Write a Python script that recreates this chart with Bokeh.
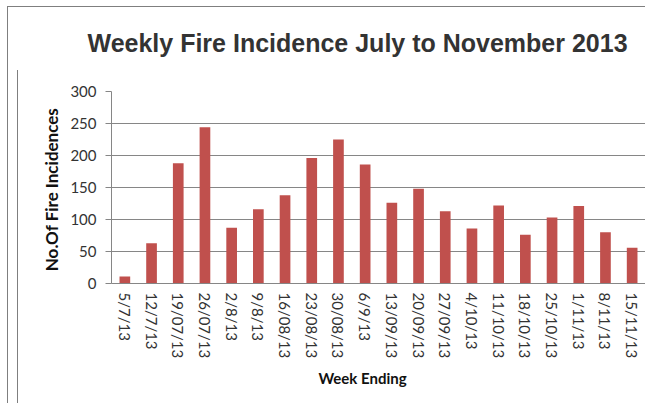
from bokeh.plotting import figure
from bokeh.models import Range1d, FactorRange, Title, FixedTicker
from bokeh.embed import file_html
from bokeh.resources import INLINE

weeks = ["5/7/13", "12/7/13", "19/07/13", "26/07/13", "2/8/13", "9/8/13",
         "16/08/13", "23/08/13", "30/08/13", "6/9/13", "13/09/13", "20/09/13",
         "27/09/13", "4/10/13", "11/10/13", "18/10/13", "25/10/13", "1/11/13",
         "8/11/13", "15/11/13"]
incidences = [11, 63, 188, 244, 87, 116, 138, 196, 225, 186, 126, 148,
              113, 86, 122, 76, 103, 121, 80, 56]
y_ticks = [0, 50, 100, 150, 200, 250, 300]

title_text = "Weekly Fire Incidence July to November 2013"
x_title = "Week Ending"
y_title = "No.Of  Fire Incidences"

W, H = 645, 403
GRID = "#868686"
BAR = "#C0504D"
TXT = "#333333"
LINE = "linear-gradient(#7f7f7f,#7f7f7f)"

p = figure(x_range=FactorRange(factors=weeks, range_padding=0),
           y_range=Range1d(0, 300), width=W, height=H,
           output_backend="svg", toolbar_location=None,
           min_border_left=111, min_border_right=0,
           min_border_top=91, min_border_bottom=120)
p.outline_line_color = None
p.border_fill_color = None
p.styles = {
    "background-color": "white",
    "background-image": ", ".join([LINE] * 3),
    "background-size": "1px 420px, 700px 1px, 1px 360px",
    "background-position": "7px 6px, 7px 6px, 17px 70px",
    "background-repeat": "no-repeat",
}

p.vbar(x=weeks, top=incidences, width=0.4, fill_color=BAR, line_color=None)

p.xgrid.grid_line_color = None
p.ygrid.grid_line_color = GRID
p.ygrid.ticker = FixedTicker(ticks=y_ticks)

p.yaxis.ticker = FixedTicker(ticks=y_ticks)
p.yaxis.axis_line_color = GRID
p.yaxis.major_tick_line_color = GRID
p.yaxis.major_tick_out = 6
p.yaxis.major_tick_in = 0
p.yaxis.minor_tick_line_color = None
p.yaxis.major_label_standoff = 9
p.yaxis.major_label_text_font = "Lato"
p.yaxis.major_label_text_font_size = "15px"
p.yaxis.major_label_text_color = TXT
p.yaxis.axis_label = y_title
p.yaxis.axis_label_text_font = "Lato"
p.yaxis.axis_label_text_font_style = "bold"
p.yaxis.axis_label_text_font_size = "17px"
p.yaxis.axis_label_text_color = "#111111"
p.yaxis.axis_label_standoff = 5

p.xaxis.axis_line_color = GRID
p.xaxis.major_tick_line_color = None
p.xaxis.major_tick_out = 0
p.xaxis.major_tick_in = 0
p.xaxis.minor_tick_line_color = None
p.xaxis.major_label_orientation = "vertical"
p.xaxis.major_label_standoff = 9
p.xaxis.major_label_text_font = "Lato"
p.xaxis.major_label_text_font_size = "15px"
p.xaxis.major_label_text_color = TXT

# blank white spacer next to the frame, then the chart title above it
p.add_layout(Title(text=".", text_font_size="10px", text_color="white",
                   standoff=25), "above")
p.add_layout(Title(text=title_text, align="left", offset=-24, standoff=0,
                   text_font="Liberation Sans", text_font_style="bold",
                   text_font_size="25px", text_color=TXT), "above")

# x-axis title
p.add_layout(Title(text=x_title, align="left", offset=207, standoff=14,
                   vertical_align="top",
                   text_font="Lato", text_font_style="bold",
                   text_font_size="15px", text_color="#111111"), "below")

open("out.html", "w").write(file_html(p, INLINE))
